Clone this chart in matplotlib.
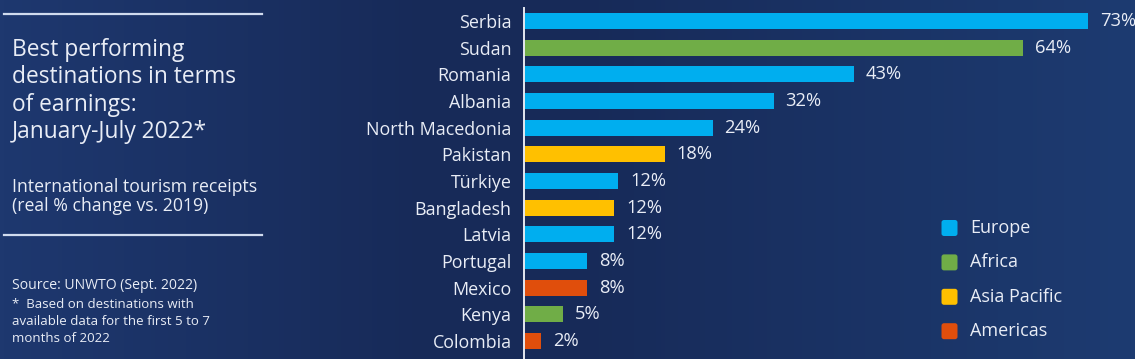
import matplotlib.pyplot as plt
import numpy as np
from matplotlib.colors import LinearSegmentedColormap
from matplotlib.patches import FancyBboxPatch

plt.rcParams.update({"font.family": ["Open Sans", "DejaVu Sans"]})

# ── data ────────────────────────────────────────────────────────────────────
countries = [
    "Serbia", "Sudan", "Romania", "Albania", "North Macedonia", "Pakistan",
    "Türkiye", "Bangladesh", "Latvia", "Portugal", "Mexico", "Kenya", "Colombia",
]
change_pct = [73.0, 64.6, 42.7, 32.3, 24.4, 18.2, 12.2, 11.7, 11.7, 8.2, 8.2, 5.0, 2.2]
value_labels = ["73%", "64%", "43%", "32%", "24%", "18%", "12%", "12%", "12%",
                "8%", "8%", "5%", "2%"]
regions = [
    "Europe", "Africa", "Europe", "Europe", "Europe", "Asia Pacific",
    "Europe", "Asia Pacific", "Europe", "Europe", "Americas", "Africa", "Americas",
]
legend_regions = ["Europe", "Africa", "Asia Pacific", "Americas"]

COLORS = {
    "Europe": "#00aeef",
    "Africa": "#70ad47",
    "Asia Pacific": "#ffc000",
    "Americas": "#e04e0c",
}
TXT = "#e9edf6"

W, H = 1135, 359
fig = plt.figure(figsize=(W / 100, H / 100), dpi=100)

# ── background gradient ─────────────────────────────────────────────────────
bg = fig.add_axes([0, 0, 1, 1], zorder=-2)
cmap = LinearSegmentedColormap.from_list(
    "bg", [(0, "#1e386f"), (0.38, "#172a58"), (0.5, "#172a58"), (1, "#1d3b71")]
)
bg.imshow(np.linspace(0, 1, 256)[None, :], aspect="auto", cmap=cmap,
          extent=[0, 1, 0, 1])
bg.set_axis_off()

# ── bar chart ───────────────────────────────────────────────────────────────
px = 7.73  # pixels per percent
ax = fig.add_axes([524 / W, 0, (W - 524) / W, 1 - 8 / H])
ax.set_facecolor("none")
y = np.arange(len(countries))
ax.barh(y, change_pct, height=0.6, color=[COLORS[r] for r in regions])
for yi, v, lab in zip(y, change_pct, value_labels):
    ax.annotate(lab, xy=(v, yi), xytext=(8.6, 0), textcoords="offset points",
                va="center", ha="left", fontsize=13.2, color=TXT,
                annotation_clip=False)

ax.set_xlim(0, (W - 524) / px)
ax.set_ylim(12.675, -0.4875)
ax.set_yticks(y)
ax.set_yticklabels(countries, fontsize=12.9, color=TXT)
ax.tick_params(axis="y", length=0, pad=9)
ax.set_xticks([])
for s in ["top", "right", "bottom"]:
    ax.spines[s].set_visible(False)
ax.spines["left"].set_color("#e4e8f0")
ax.spines["left"].set_linewidth(1.4)

# ── overlay in pixel coordinates for text panel + legend ────────────────────
ov = fig.add_axes([0, 0, 1, 1], zorder=3)
ov.set_xlim(0, W)
ov.set_ylim(H, 0)
ov.set_axis_off()
ov.patch.set_alpha(0)

ov.plot([4, 262], [14, 14], color="#d0dbee", lw=1.6)
ov.plot([4, 262], [235, 235], color="#d0dbee", lw=1.6)

title_lines = ["Best performing", "destinations in terms", "of earnings:",
               "January-July 2022*"]
for i, line in enumerate(title_lines):
    ov.text(12, 56 + i * 27.3, line, fontsize=16.4, color=TXT, va="baseline")

ov.text(12, 192, "International tourism receipts", fontsize=12.7, color=TXT,
        va="baseline")
ov.text(12, 211, "(real % change vs. 2019)", fontsize=12.7, color=TXT,
        va="baseline")

ov.text(12, 289, "Source: UNWTO (Sept. 2022)", fontsize=10.1, color=TXT,
        va="baseline")
foot = ["*  Based on destinations with", "available data for the first 5 to 7",
        "months of 2022"]
for i, line in enumerate(foot):
    ov.text(12, 308 + i * 17, line, fontsize=9.5, color=TXT, va="baseline")

# legend
for i, reg in enumerate(legend_regions):
    cy = 228 + i * 34.4
    ov.add_patch(FancyBboxPatch((941.5, cy - 8), 16, 16,
                                boxstyle="round,pad=0,rounding_size=2.5",
                                fc=COLORS[reg], ec="none"))
    ov.text(970, cy, reg, fontsize=13, color=TXT, va="center", ha="left")

fig.savefig("out.png", dpi=100, facecolor="#1a3062")
